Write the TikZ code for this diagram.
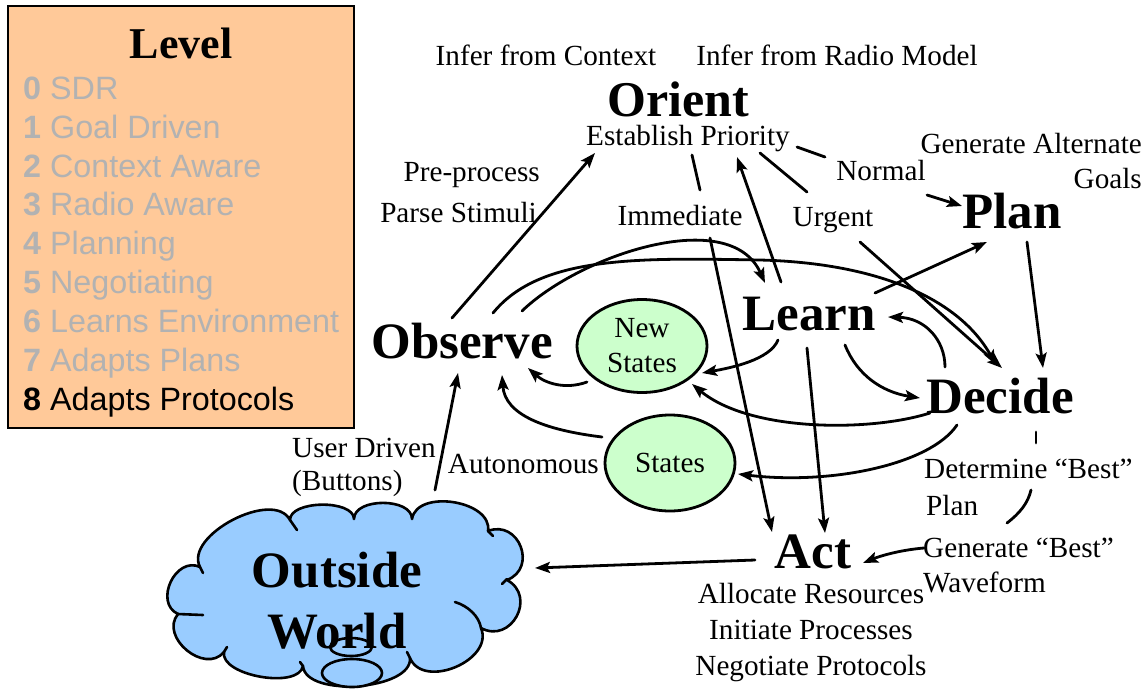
\documentclass[tikz,border=0pt]{standalone}
\usepackage{fontspec}
\setmainfont{Liberation Serif}
\newfontfamily\arialf{Liberation Sans}
\usetikzlibrary{arrows.meta,shapes.geometric}
\definecolor{peach}{RGB}{255,201,153}
\definecolor{mint}{RGB}{204,255,204}
\definecolor{sky}{RGB}{153,204,255}
\definecolor{lvgray}{RGB}{178,178,178}
\begin{document}
\begin{tikzpicture}[x=1pt,y=-1pt,
  lbl/.style={font=\fontsize{29.2}{35}\selectfont, inner sep=0pt, anchor=base},
  lblw/.style={lbl, anchor=base west, align=left},
  big/.style={font=\fontsize{51}{61}\selectfont\bfseries, inner sep=0pt, anchor=base},
  lvl/.style={font=\arialf\fontsize{32.3}{38}\selectfont, inner sep=0pt, anchor=base west, text=lvgray},
  con/.style={line width=2.8pt, line cap=round},
  arr/.style={con, -{Stealth[length=15pt,width=11pt,inset=3pt]}},
  statenode/.style={ellipse, draw, fill=mint, line width=2.8pt, inner sep=0pt,
    font=\fontsize{29.2}{35}\selectfont, align=center},
  cloudline/.style={line width=2.6pt, line cap=round, line join=round}
]
\useasboundingbox (0,0) rectangle (1148,689);

% ---------- Level box ----------
\node[draw, fill=peach, line width=2.6pt, minimum width=346pt, minimum height=422pt, inner sep=0pt] (levelbox) at (181,217) {};
\node[font=\fontsize{44}{50}\selectfont\bfseries, inner sep=0pt, anchor=base] (leveltitle) at (181,58) {Level};
\node[lvl] (l0) at (23,99.3) {\textbf{0} SDR};
\node[lvl] (l1) at (23,138.2) {\textbf{1} Goal Driven};
\node[lvl] (l2) at (23,177) {\textbf{2} Context Aware};
\node[lvl] (l3) at (23,215.9) {\textbf{3} Radio Aware};
\node[lvl] (l4) at (23,254.8) {\textbf{4} Planning};
\node[lvl] (l5) at (23,293.6) {\textbf{5} Negotiating};
\node[lvl] (l6) at (23,332.5) {\textbf{6} Learns Environment};
\node[lvl] (l7) at (23,371.4) {\textbf{7} Adapts Plans};
\node[lvl, text=black] (l8) at (23,410.2) {\textbf{8} Adapts Protocols};

% ---------- Cloud ----------
\path[cloudline, draw, fill=sky] (200,567)
 .. controls (183.6,535.5) and (273.6,488.5) .. (290,520)
 .. controls (289.7,500.2) and (353.7,499.2) .. (354,519)
 .. controls (354,497.5) and (412,497.5) .. (412,519)
 .. controls (416.8,488.6) and (492.8,500.6) .. (488,531)
 .. controls (518.9,519.1) and (537.9,568.1) .. (507,580)
 .. controls (537.2,596.4) and (511.2,644.4) .. (481,628)
 .. controls (494.5,660) and (423.5,690) .. (410,658)
 .. controls (412.6,690) and (305.6,698) .. (303,666)
 .. controls (298.8,689.6) and (219.8,675.6) .. (224,652)
 .. controls (205,675) and (159,637) .. (178,614)
 .. controls (153.5,602.6) and (175.5,555.6) .. (200,567) -- cycle;
\draw[cloudline] (290,520) -- (297,530);
\draw[cloudline] (488,531) -- (493,536);
\draw[cloudline] (507,579) -- (502,584);
\draw[cloudline] (455,602) .. controls (468,606) and (479,616) .. (481,628);
\draw[cloudline] (410,658) -- (407,652);
\draw[cloudline] (303,666) -- (300,662);
\draw[cloudline] (224,652) -- (227,647);
\draw[cloudline] (178,614) -- (203,615);
\draw[cloudline] (200,567) -- (203,573);
\draw[cloudline, fill=sky] (352,673) ellipse [x radius=30, y radius=14];
\node[big, align=center] (world) at (337,648) {Outside\\World};
\draw[cloudline] (351,647) ellipse [x radius=21, y radius=9];

% ---------- Main nodes ----------
\node[big, font=\fontsize{50}{60}\selectfont\bfseries] (orient) at (678,116) {Orient};
\node[big] (plan) at (1012,228) {Plan};
\node[big] (learn) at (809,330) {Learn};
\node[big] (observe) at (462,358) {Observe};
\node[big] (decide) at (1000,413) {Decide};
\node[big] (act) at (813,568) {Act};
\node[statenode, minimum width=130pt, minimum height=93pt] (newst) at (642,346) {New\\States};
\node[statenode, minimum width=130pt, minimum height=96pt] (states) at (670,463) {States};

% ---------- Labels ----------
\node[lbl] (infctx) at (546,65) {Infer from Context};
\node[lbl] (infrad) at (837,65) {Infer from Radio Model};
\node[lbl] (estab) at (688,145) {Establish Priority};
\node[lbl, anchor=base east] (preproc) at (540,181) {Pre-process};
\node[lbl, anchor=base east] (parse) at (537,222) {Parse Stimuli};
\node[lbl] (immed) at (680,225) {Immediate};
\node[lbl] (normal) at (881,180) {Normal};
\node[lbl] (urgent) at (833,226) {Urgent};
\node[lbl, anchor=base east, align=right] (genalt) at (1142,188) {Generate Alternate\\Goals};
\node[lbl, anchor=base east] (auto) at (599,473) {Autonomous};
\node[lblw, font=\fontsize{29.2}{33}\selectfont] (user) at (292,490) {User Driven\\(Buttons)};
\node[lblw, font=\fontsize{29.2}{37}\selectfont] (detbest) at (924,515) {Determine “Best”\\\hspace{2pt}Plan};
\node[lblw, font=\fontsize{29.2}{35}\selectfont] (genbest) at (923,592) {Generate “Best”\\Waveform};
\node[lbl, align=center, font=\fontsize{29.2}{36}\selectfont] (alloc) at (811,675) {Allocate Resources\\Initiate Processes\\Negotiate Protocols};

% ---------- Connector end points ----------
\coordinate (ob1) at (452,318);  \coordinate (ep1) at (595,153);
\coordinate (ob2) at (493,313);  \coordinate (de1) at (996,365);
\coordinate (ob3) at (522,311);  \coordinate (le1) at (765,283);
\coordinate (ep2) at (797,147);  \coordinate (nm1) at (825,157);
\coordinate (nm2) at (927,195);  \coordinate (pl1) at (962,206);
\coordinate (ep3) at (760,153);  \coordinate (ur1) at (807,192);
\coordinate (ur2) at (860,242);  \coordinate (de2) at (1002,368);
\coordinate (ep4) at (692,155);  \coordinate (im1) at (700,190);
\coordinate (im2) at (710,238);  \coordinate (ac1) at (772,532);
\coordinate (le2) at (781,282);  \coordinate (ep5) at (737,157);
\coordinate (le3) at (875,293);  \coordinate (pl2) at (987,242);
\coordinate (pl3) at (1027,242); \coordinate (de3) at (1043,368);
\coordinate (de4) at (945,367);  \coordinate (le4) at (888,317);
\coordinate (le5) at (845,345);  \coordinate (de5) at (920,398);
\coordinate (le6) at (778,340);  \coordinate (ns1) at (702,373);
\coordinate (de6) at (930,413);  \coordinate (ns2) at (692,384);
\coordinate (de7) at (957,425);  \coordinate (st1) at (738,474);
\coordinate (ns3) at (587,382);  \coordinate (ob4) at (528,368);
\coordinate (st2) at (602,437);  \coordinate (ob5) at (502,375);
\coordinate (ow1) at (435,490);  \coordinate (ob6) at (458,373);
\coordinate (ac2) at (755,560);  \coordinate (ow2) at (535,568);
\coordinate (le7) at (807,348);  \coordinate (ac3) at (825,533);
\coordinate (de8) at (1036,432); \coordinate (dt1) at (1036,443);
\coordinate (dt2) at (1031,490); \coordinate (dt3) at (1007,523);
\coordinate (gb1) at (924,548);  \coordinate (ac4) at (863,563);

% ---------- Connectors ----------
\draw[arr] (ob1) -- (ep1);
\draw[arr] (ob2) .. controls (540,255) and (640,258) .. (760,260)
                 .. controls (880,263) and (960,300) .. (de1);
\draw[arr] (ob3) .. controls (580,255) and (730,205) .. (le1);
\draw[con] (ep2) -- (nm1);
\draw[arr] (nm2) -- (pl1);
\draw[con] (ep3) -- (ur1);
\draw[arr] (ur2) -- (de2);
\draw[con] (ep4) -- (im1);
\draw[arr] (im2) -- (ac1);
\draw[arr] (le2) -- (ep5);
\draw[arr] (le3) -- (pl2);
\draw[arr] (pl3) -- (de3);
\draw[arr] (de4) .. controls (945,340) and (925,318) .. (le4);
\draw[arr] (le5) .. controls (857,375) and (882,392) .. (de5);
\draw[arr] (le6) .. controls (770,360) and (730,368) .. (ns1);
\draw[arr] (de6) .. controls (870,432) and (750,432) .. (ns2);
\draw[arr] (de7) .. controls (930,465) and (830,485) .. (st1);
\draw[arr] (ns3) .. controls (565,390) and (545,383) .. (ob4);
\draw[arr] (st2) .. controls (545,430) and (505,415) .. (ob5);
\draw[arr] (ow1) -- (ob6);
\draw[arr] (ac2) -- (ow2);
\draw[arr] (le7) -- (ac3);
\draw[con] (de8) -- (dt1);
\draw[con] (dt2) .. controls (1028,503) and (1020,513) .. (dt3);
\draw[arr] (gb1) .. controls (900,550) and (880,556) .. (ac4);
\end{tikzpicture}
\end{document}
